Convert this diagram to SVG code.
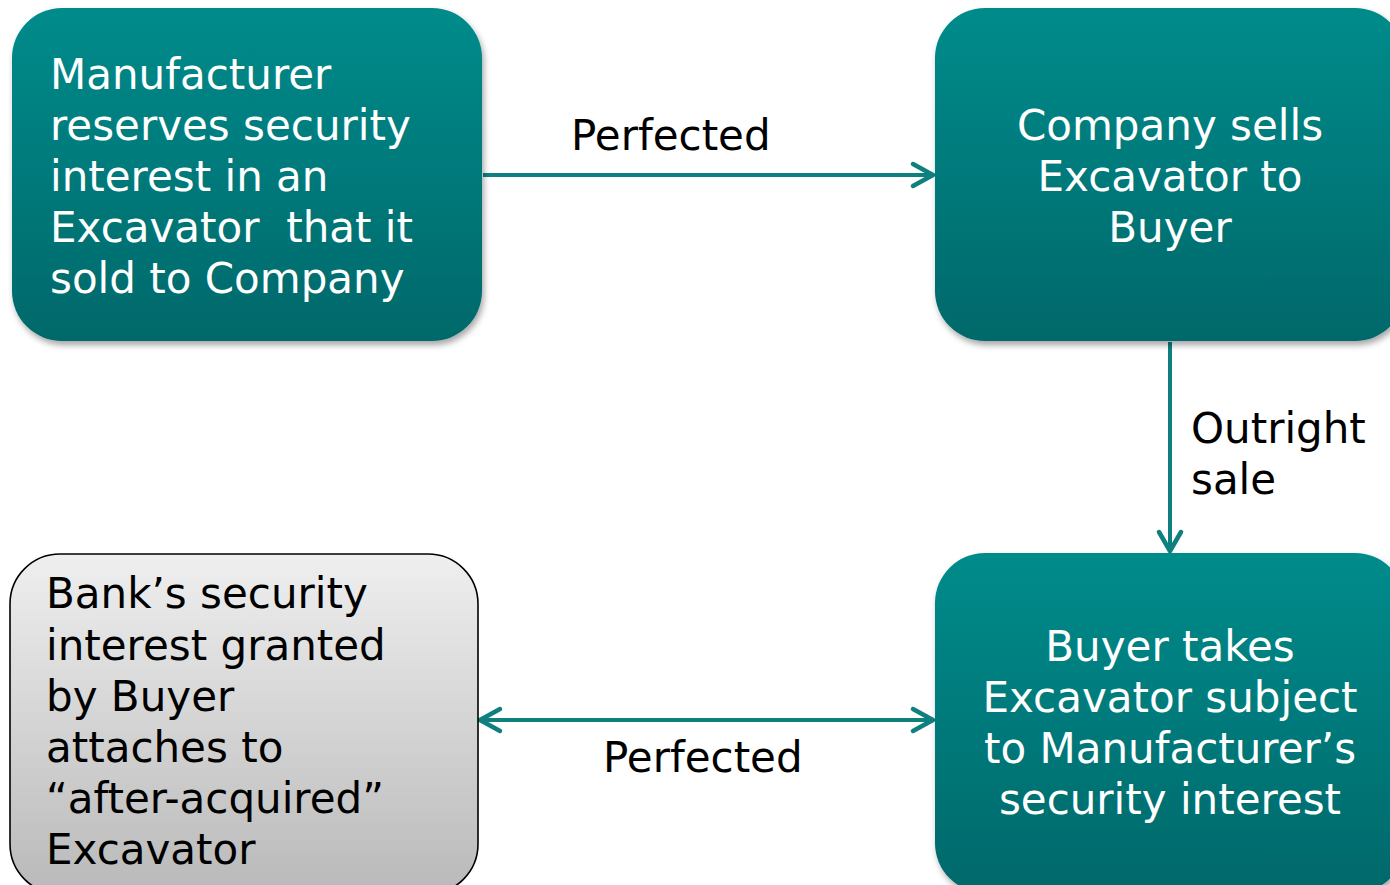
<svg xmlns="http://www.w3.org/2000/svg" width="1390" height="885" viewBox="0 0 1390 885">
<style>
.teal{fill:url(#gT);filter:url(#sh)}
.gray{fill:url(#gG);stroke:#000;stroke-width:1.6}
.wt{font-family:"DejaVu Sans",Verdana,sans-serif;font-size:42px;fill:#fff;white-space:pre}
.bt{font-family:"DejaVu Sans",Verdana,sans-serif;font-size:42px;fill:#000;white-space:pre}
.c{text-anchor:middle}
.con{stroke:#0f7f80;stroke-width:4;fill:none}
.ah{stroke:#0f7f80;stroke-width:4.5;fill:none;stroke-linecap:round;stroke-linejoin:round}
</style>
<defs>
<linearGradient id="gT" x1="0" y1="0" x2="0" y2="1">
<stop offset="0" stop-color="#038b8b"/>
<stop offset="1" stop-color="#02686a"/>
</linearGradient>
<linearGradient id="gG" x1="0" y1="0" x2="0" y2="1">
<stop offset="0" stop-color="#efefef"/>
<stop offset="1" stop-color="#b9b9b9"/>
</linearGradient>
<filter id="sh" x="-10%" y="-10%" width="120%" height="125%">
<feDropShadow dx="2" dy="4" stdDeviation="3" flood-color="#000" flood-opacity="0.35"/>
</filter>
</defs>
<rect width="1390" height="885" fill="#fff"/>
<g id="connectors">
<line class="con" x1="483" y1="175" x2="932" y2="175"/>
<polyline class="ah" points="913,164 933,175 913,186"/>
<line class="con" x1="1170" y1="342" x2="1170" y2="550"/>
<polyline class="ah" points="1159,532 1170,551 1181,532"/>
<line class="con" x1="481" y1="720" x2="932" y2="720"/>
<polyline class="ah" points="913,709 933,720 913,731"/>
<polyline class="ah" points="500,709 480,720 500,731"/>
<text class="bt" x="571" y="150">Perfected</text>
<text class="bt" x="603" y="772">Perfected</text>
<text class="bt" x="1191" y="443">Outright</text>
<text class="bt" x="1191" y="494">sale</text>
</g>
<g id="n1">
<rect class="teal" x="12" y="8" width="470" height="333" rx="50" ry="50"/>
<text class="wt" x="50" y="89">Manufacturer</text>
<text class="wt" x="50" y="140">reserves security</text>
<text class="wt" x="50" y="191">interest in an</text>
<text class="wt" x="50" y="242">Excavator  that it</text>
<text class="wt" x="50" y="293">sold to Company</text>
</g>
<g id="n2">
<rect class="teal" x="935" y="8" width="470" height="333" rx="50" ry="50"/>
<text class="wt c" x="1170" y="140">Company sells</text>
<text class="wt c" x="1170" y="191">Excavator to</text>
<text class="wt c" x="1170" y="242">Buyer</text>
</g>
<g id="n4">
<rect class="teal" x="935" y="553" width="470" height="340" rx="50" ry="50"/>
<text class="wt c" x="1170" y="661">Buyer takes</text>
<text class="wt c" x="1170" y="712">Excavator subject</text>
<text class="wt c" x="1170" y="763">to Manufacturer’s</text>
<text class="wt c" x="1170" y="814">security interest</text>
</g>
<g id="n3">
<rect class="gray" x="10" y="554" width="468" height="340" rx="50" ry="50"/>
<text class="bt" x="46" y="608">Bank’s security</text>
<text class="bt" x="46" y="660">interest granted</text>
<text class="bt" x="46" y="711">by Buyer</text>
<text class="bt" x="46" y="762">attaches to</text>
<text class="bt" x="46" y="813">“after-acquired”</text>
<text class="bt" x="46" y="864">Excavator</text>
</g>
</svg>
